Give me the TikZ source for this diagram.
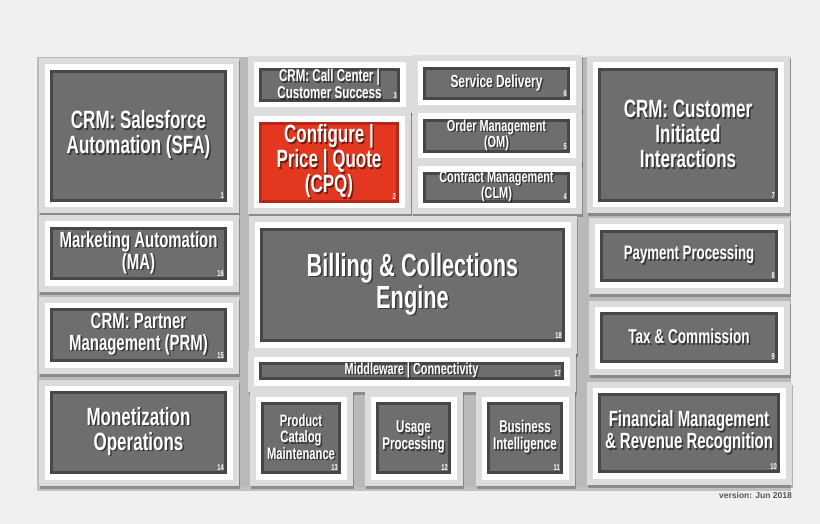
\documentclass[tikz,border=0pt]{standalone}
\usepackage{fontspec}
\newfontfamily\modfont[FakeStretch=0.68]{Liberation Sans}
\usetikzlibrary{shadows}

\definecolor{paper}{HTML}{F0F0F0}
\definecolor{backdrop}{HTML}{B9B9B9}
\definecolor{rim}{HTML}{DCDCDC}
\definecolor{greyedge}{HTML}{474747}
\definecolor{greyface}{HTML}{6E6E6E}
\definecolor{rededge}{HTML}{B7261A}
\definecolor{redface}{HTML}{E3381F}
\definecolor{versiongrey}{HTML}{555555}

\begin{document}
\begin{tikzpicture}[x=1pt, y=-1pt,
    tile/.style={fill=rim, drop shadow={shadow xshift=1pt, shadow yshift=-3pt, opacity=0.25, fill=black}},
    frame/.style={fill=white},
    modtext/.style={text=white, inner sep=0pt, align=center},
    modshadow/.style={text=black, opacity=0.5, inner sep=0pt, align=center},
    modnum/.style={text=white, inner sep=0pt, font=\modfont\bfseries\fontsize{8.5}{8.5}\selectfont}]

  \fill[paper] (0,0) rectangle (820,524);
  \useasboundingbox (0,0) rectangle (820,524);
  \fill[backdrop, drop shadow={shadow xshift=0pt, shadow yshift=-4pt, opacity=0.2, fill=black}] (37,57) rectangle (791,487);

  % modules: number / inner box corners / font size / colours / text
  \foreach \n/\xa/\ya/\xb/\yb/\fs/\ec/\fc/\txt in {
      1/50/70/227/202/25/greyedge/greyface/{CRM: Salesforce\\Automation (SFA)},
      3/259/68/400/102/17/greyedge/greyface/{CRM: Call Center |\\Customer Success},
      6/423/67/570/100/17.5/greyedge/greyface/{Service Delivery},
      2/259/122/399/203/25/rededge/redface/{Configure |\\Price | Quote\\(CPQ)},
      5/423/119/570/153/16/greyedge/greyface/{Order Management\\(OM)},
      4/423/172/570/203/16/greyedge/greyface/{Contract Management\\(CLM)},
      7/598/68/778/202/25/greyedge/greyface/{CRM: Customer\\Initiated\\Interactions},
      16/50/227/227/280/22/greyedge/greyface/{Marketing Automation\\(MA)},
      15/50/308/227/362/22/greyedge/greyface/{CRM: Partner\\Management (PRM)},
      18/260/228/565/342/32/greyedge/greyface/{Billing \& Collections\\Engine},
      17/259/362/564/380/16/greyedge/greyface/{Middleware | Connectivity},
      14/50/391/227/474/25/greyedge/greyface/{Monetization\\Operations},
      13/261/402/341/474/16.5/greyedge/greyface/{Product\\Catalog\\Maintenance},
      12/376/402/451/474/17/greyedge/greyface/{Usage\\Processing},
      11/487/402/563/474/17/greyedge/greyface/{Business\\Intelligence},
      8/600/230/778/282/19.5/greyedge/greyface/{Payment Processing},
      9/600/312/778/363/20/greyedge/greyface/{Tax \& Commission},
      10/598/393/780/473/22/greyedge/greyface/{Financial Management\\\& Revenue Recognition}} {
    \fill[tile] ({\xa-11.5},{\ya-11.5}) rectangle ({\xb+11.5},{\yb+11.5});
    \fill[frame] ({\xa-5.5},{\ya-5.5}) rectangle ({\xb+5.5},{\yb+5.5});
    \fill[\ec] (\xa,\ya) rectangle (\xb,\yb);
    \fill[\fc] ({\xa+3},{\ya+3}) rectangle ({\xb-3},{\yb-3});
    \node[modshadow, font=\modfont\bfseries\fontsize{\fs}{\fs}\selectfont]
      at ({(\xa+\xb)/2+1.5},{(\ya+\yb)/2+0.5}) {\txt};
    \node[modtext, font=\modfont\bfseries\fontsize{\fs}{\fs}\selectfont]
      (m\n) at ({(\xa+\xb)/2},{(\ya+\yb)/2-1}) {\txt};
    \node[modnum, anchor=south east] (n\n) at ({\xb-3},{\yb-3}) {\n};
  }

  \node[anchor=east, inner sep=0pt, text=versiongrey, font=\fontspec{Liberation Sans Bold}\fontsize{8.5}{9}\selectfont]
    (version) at (792,495) {version: Jun 2018};
\end{tikzpicture}
\end{document}
